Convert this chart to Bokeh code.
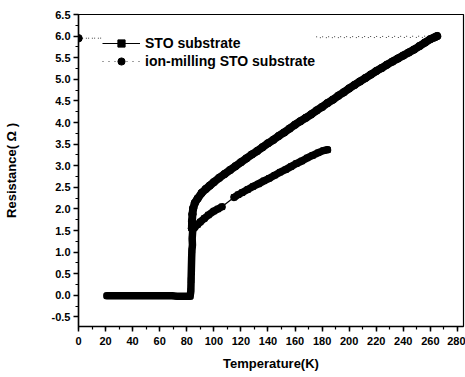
import numpy as np
from bokeh.plotting import figure
from bokeh.models import FixedTicker, Range1d, Legend, LegendItem, NumeralTickFormatter
from bokeh.embed import file_html
from bokeh.resources import INLINE

# STO substrate (squares, solid line)
sto_T = [21, 25, 29, 33, 37, 41, 45, 49, 53, 57, 61, 65, 69, 73, 77, 81, 82.5,
         83.0, 83.2, 83.4, 83.6, 83.8, 84.2, 84.0, 84.4,
         86, 88, 90, 93, 96, 100, 103, 106,
         115, 118, 121, 125, 129, 133, 137, 141, 145, 149, 153, 157, 161, 165,
         169, 173, 177, 181, 184]
sto_R = [-0.01, -0.01, -0.01, -0.01, -0.01, -0.01, -0.01, -0.01, -0.01, -0.01,
         -0.01, -0.01, -0.01, -0.02, -0.02, -0.02, -0.02,
         0.10, 0.35, 0.60, 0.85, 1.04, 1.17, 1.31, 1.50,
         1.58, 1.64, 1.70, 1.78, 1.86, 1.95, 2.00, 2.05,
         2.27, 2.33, 2.38, 2.45, 2.52, 2.58, 2.65, 2.71, 2.78, 2.85, 2.91, 2.98,
         3.05, 3.11, 3.18, 3.24, 3.30, 3.35, 3.37]

# ion-milling STO substrate (circles, dotted line), in measured (cooling) order
ion_T = [265, 0, 263, 260, 256, 252, 248, 244, 240, 236, 232, 228, 224, 220,
         216, 212, 208, 204, 200, 196, 192, 188, 184, 180, 176, 172, 168, 164,
         160, 156, 152, 148, 144, 140, 136, 132, 128, 124, 120, 116, 112, 108,
         104, 100, 97, 94, 91, 88, 86, 84.8, 84.2, 83.9, 83.8]
ion_R = [6.00, 5.95, 5.97, 5.93, 5.85, 5.77, 5.69, 5.62, 5.55, 5.48, 5.41, 5.34,
         5.26, 5.19, 5.11, 5.03, 4.95, 4.87, 4.79, 4.70, 4.62, 4.53, 4.45, 4.36,
         4.28, 4.19, 4.11, 4.03, 3.95, 3.86, 3.77, 3.69, 3.60, 3.52, 3.43, 3.34,
         3.26, 3.17, 3.08, 2.99, 2.90, 2.81, 2.72, 2.62, 2.54, 2.46, 2.37, 2.24,
         2.14, 2.02, 1.88, 1.72, 1.55]

x_ticks = list(range(0, 281, 20))
x_minor = list(range(0, 285, 10))
y_ticks = [round(-0.5 + 0.5 * i, 2) for i in range(15)]
y_minor = [round(-0.75 + 0.25 * i, 2) for i in range(30)]

p = figure(width=465, height=377, output_backend="svg", toolbar_location=None,
           x_range=Range1d(0, 284.5), y_range=Range1d(-0.72, 6.5),
           min_border_left=77, min_border_right=2, min_border_top=14,
           min_border_bottom=51)
p.background_fill_color = "white"
p.border_fill_color = "white"
p.xgrid.visible = False
p.ygrid.visible = False
p.outline_line_color = "black"
p.outline_line_width = 1.2

for ax in (p.xaxis[0], p.yaxis[0]):
    ax.axis_line_width = 1.5
    ax.axis_line_color = "black"
    ax.major_tick_line_width = 1.5
    ax.minor_tick_line_width = 1.2
    ax.major_tick_out = 5
    ax.major_tick_in = 0
    ax.minor_tick_out = 3
    ax.minor_tick_in = 0
    ax.major_label_text_font = "Liberation Sans"
    ax.major_label_text_font_style = "bold"
    ax.major_label_text_font_size = "11px"
    ax.major_label_text_color = "black"
    ax.axis_label_text_font = "Liberation Sans"
    ax.axis_label_text_font_style = "bold"
    ax.axis_label_text_font_size = "13px"
    ax.axis_label_text_color = "black"

p.xaxis.ticker = FixedTicker(ticks=x_ticks, minor_ticks=x_minor)
p.yaxis.ticker = FixedTicker(ticks=y_ticks, minor_ticks=y_minor)
p.yaxis.formatter = NumeralTickFormatter(format="0.0")
p.xaxis.axis_label = "Temperature(K)"
p.yaxis.axis_label = "Resistance( Ω )"
p.xaxis.major_label_standoff = 5
p.yaxis.major_label_standoff = 3
p.xaxis.axis_label_standoff = 8
p.yaxis.axis_label_standoff = 30

# thick bands (dense measured points merge into a band)
sT = np.array(sto_T, dtype=float)
sR = np.array(sto_R, dtype=float)
breaks = np.where(np.diff(sT) > 6)[0] + 1
for segT, segR in zip(np.split(sT, breaks), np.split(sR, breaks)):
    p.line(segT, segR, line_width=7.5, color="black", line_cap="round", line_join="round")
iT = np.array(ion_T, dtype=float)
iR = np.array(ion_R, dtype=float)
m = iT > 10
order = np.argsort(iT[m])
p.line(iT[m][order], iR[m][order], line_width=8, color="black", line_cap="round", line_join="round")

# series
sto_line = p.line(sto_T, sto_R, line_width=1.2, color="black")
sto_pts = p.scatter(sto_T, sto_R, marker="square", size=5.5, color="black")
ion_line = p.line(ion_T, ion_R, line_width=1, color="#444444", line_dash="1 5")
ion_pts = p.scatter(ion_T, ion_R, marker="circle", size=7.5, color="black")

legend = Legend(items=[
    LegendItem(label="STO substrate", renderers=[sto_line, sto_pts]),
    LegendItem(label="ion-milling STO substrate", renderers=[ion_line, ion_pts]),
], location=(24, 256))
legend.background_fill_color = "white"
legend.background_fill_alpha = 1
legend.border_line_color = None
legend.label_text_font = "Liberation Sans"
legend.label_text_font_style = "bold"
legend.label_text_font_size = "14px"
legend.label_text_color = "black"
legend.glyph_width = 38
legend.glyph_height = 18
legend.label_height = 18
legend.label_standoff = 5
legend.padding = 4
legend.spacing = 0
legend.margin = 0
p.add_layout(legend, "center")

open("out.html", "w").write(file_html(p, INLINE))
